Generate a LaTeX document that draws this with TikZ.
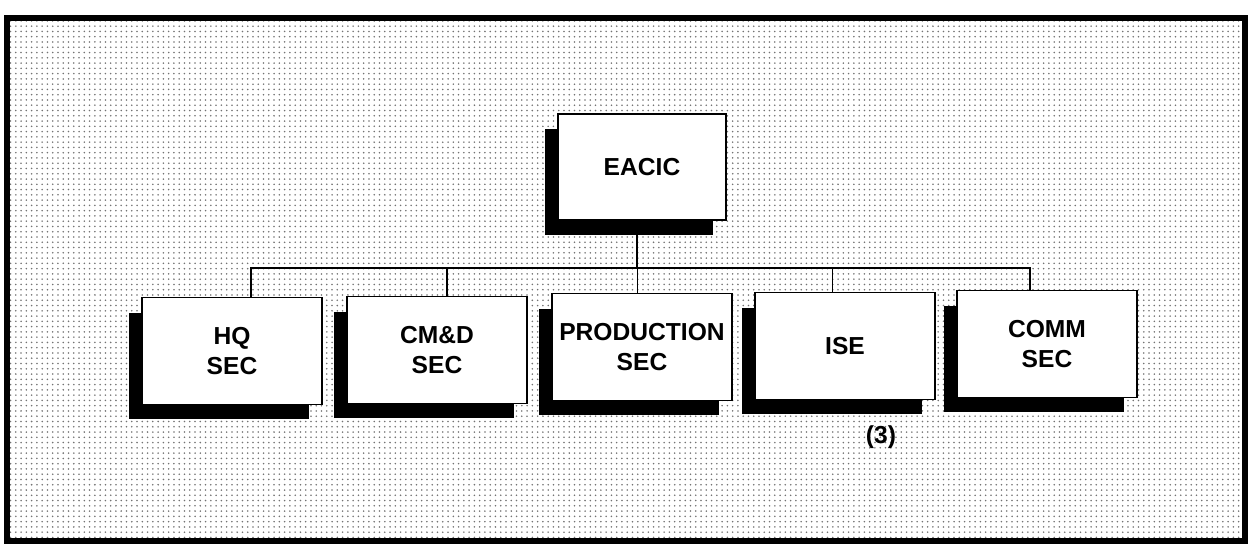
\documentclass[tikz,border=0pt]{standalone}
\usepackage{fontspec}
\setmainfont{Liberation Sans}
\usetikzlibrary{shadows,patterns,backgrounds}

\tikzset{
  secbox/.style={draw, fill=white, line width=0.6pt, align=center,
    minimum width=3.6cm, minimum height=2.14cm, inner sep=1pt,
    font=\fontsize{14}{17.5}\selectfont\bfseries,
    drop shadow={shadow xshift=-0.26cm, shadow yshift=-0.3cm, opacity=1, fill=black}},
  topbox/.style={secbox, minimum width=3.36cm, minimum height=2.12cm},
  link/.style={line width=0.6pt}
}

\begin{document}
\begin{tikzpicture}[x=0.02cm, y=-0.02cm]
        \useasboundingbox (0,0) rectangle (1249,548);
        \node[topbox] (eacic) at (642,167) {EACIC};
        \node[secbox] (hq) at (232,351) {HQ\\SEC};
        \node[secbox] (cmd) at (437,350) {CM\&D\\SEC};
        \node[secbox] (prod) at (642,347) {PRODUCTION\\SEC};
        \node[secbox] (ise) at (845,346) {ISE};
        \node[secbox] (comm) at (1047,344) {COMM\\SEC};
        \node[font=\fontsize{14}{17}\selectfont\bfseries] (note) at (881,437) {(3)};
        \coordinate (bus) at (637,268);
        \begin{scope}[on background layer]
        \draw[line width=3.4pt, pattern=dots, pattern color=black!55] (7,18) rectangle (1245,541);
        \draw[link] (eacic.south -| bus) -- (bus);
        \draw[link] ([xshift=0.38cm]hq.north) |- (bus);
        \draw[link] ([xshift=0.2cm]cmd.north) |- (bus);
        \draw[link] ([xshift=-0.09cm]prod.north) |- (bus);
        \draw[link] ([xshift=-0.25cm]ise.north) |- (bus);
        \draw[link] ([xshift=-0.34cm]comm.north) |- (bus);
        \end{scope}
    \end{tikzpicture}
\end{document}
